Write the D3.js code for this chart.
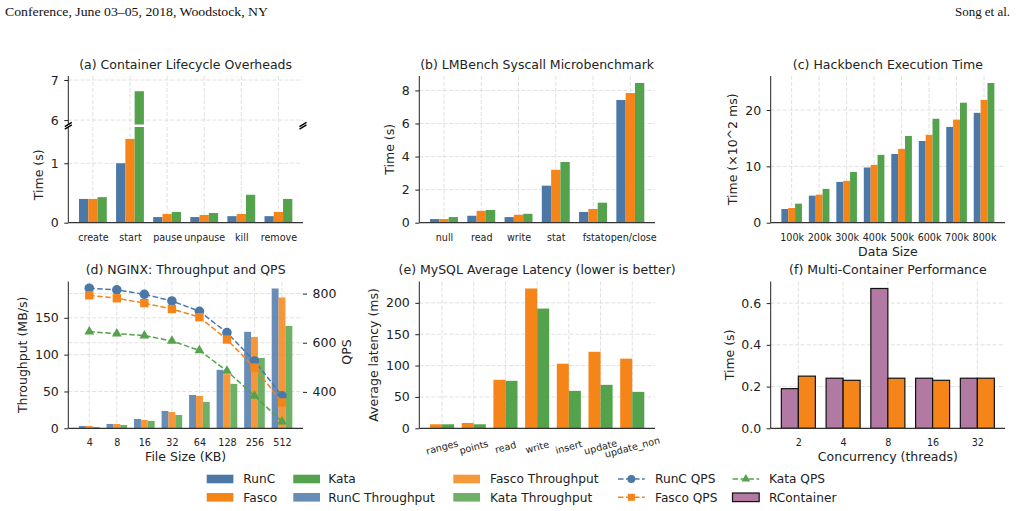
<!DOCTYPE html>
<html>
<head>
<meta charset="utf-8">
<script src="https://cdn.jsdelivr.net/npm/d3@7"></script>
<style>
body { margin: 0; background: #fff; }
</style>
</head>
<body>
<script>
// (a) lifecycle
var lifecycleOps = ['create', 'start', 'pause', 'unpause', 'kill', 'remove'];
var lifecycleRunc = [0.40, 1.00, 0.095, 0.095, 0.11, 0.11];
var lifecycleFasco = [0.40, 1.41, 0.146, 0.13, 0.146, 0.18];
var lifecycleKata = [0.43, 6.72, 0.18, 0.163, 0.47, 0.40];

// (b) lmbench
var syscallOps = ['null', 'read', 'write', 'stat', 'fstat', 'open/close'];
var syscallRunc = [0.22, 0.42, 0.34, 2.24, 0.65, 7.42];
var syscallFasco = [0.22, 0.72, 0.48, 3.2, 0.83, 7.84];
var syscallKata = [0.34, 0.77, 0.54, 3.67, 1.21, 8.45];

// (c) hackbench
var hackSizes = ['100k', '200k', '300k', '400k', '500k', '600k', '700k', '800k'];
var hackRunc = [2.43, 4.8, 7.24, 9.8, 12.2, 14.5, 17.0, 19.5];
var hackFasco = [2.6, 4.98, 7.42, 10.27, 13.1, 15.6, 18.3, 21.8];
var hackKata = [3.38, 6.0, 9.0, 12.05, 15.4, 18.45, 21.3, 24.8];

// (d) nginx
var nginxSizes = ['4', '8', '16', '32', '64', '128', '256', '512'];
var nginxRuncTp = [3.2, 5.9, 12.7, 23.6, 45.3, 79.3, 131, 189.8];
var nginxFascoTp = [3.2, 5.9, 11.3, 22.2, 44, 73.5, 124, 177.6];
var nginxKataTp = [1.8, 4.5, 10, 18.1, 35.8, 60.3, 95.6, 139];
var nginxRuncQps = [822, 815, 797, 770, 728, 641, 526, 384];
var nginxFascoQps = [793, 781, 761, 737, 704, 613, 499, 357];
var nginxKataQps = [645, 637, 629, 607, 569, 485, 384, 279];

// (e) mysql
var mysqlOps = ['ranges', 'points', 'read', 'write', 'insert', 'update', 'update_non'];
var mysqlFasco = [6.4, 8.5, 77.3, 222.9, 103, 122, 111];
var mysqlKata = [6.4, 6.4, 75.7, 190.9, 59.7, 69.3, 58.1];

// (f) multi container
var multiThreads = ['2', '4', '8', '16', '32'];
var multiRcontainer = [0.19, 0.24, 0.67, 0.24, 0.24];
var multiFasco = [0.25, 0.23, 0.24, 0.23, 0.24];

var BLUE = '#4c78a8', ORANGE = '#f58518', GREEN = '#54a24b', PURPLE = '#b279a2';
var FONT = 'DejaVu Sans, sans-serif';
var INK = '#222';

var svg = d3.select('body').append('svg')
    .attr('width', 1021)
    .attr('height', 511);

svg.append('text')
    .attr('x', 5).attr('y', 16)
    .attr('font-family', 'Liberation Serif, serif').attr('font-size', 13)
    .attr('textLength', 263).attr('lengthAdjust', 'spacingAndGlyphs')
    .attr('fill', '#111')
    .text('Conference, June 03–05, 2018, Woodstock, NY');
svg.append('text')
    .attr('x', 1010).attr('y', 16)
    .attr('text-anchor', 'end')
    .attr('font-family', 'Liberation Serif, serif').attr('font-size', 13)
    .attr('textLength', 55).attr('lengthAdjust', 'spacingAndGlyphs')
    .attr('fill', '#111')
    .text('Song et al.');

var cols = [[68.3, 303], [419.3, 655], [770.7, 1005]];
var rows = [[76, 222.7], [281.5, 428.3]];
function box(c, r) {
    return { l: cols[c][0], r: cols[c][1], t: rows[r][0], b: rows[r][1] };
}

function xScale(n, half, bx) {
    var lo = -half, hi = n - 1 + half;
    var m = 0.05 * (hi - lo);
    return d3.scaleLinear().domain([lo - m, hi + m]).range([bx.l, bx.r]);
}

function vgrid(g, x, n, t, b) {
    g.selectAll(null).data(d3.range(n)).enter().append('line')
        .attr('x1', function (d) { return x(d); })
        .attr('x2', function (d) { return x(d); })
        .attr('y1', t).attr('y2', b)
        .attr('stroke', '#dcdcdc').attr('stroke-width', 0.9)
        .attr('stroke-dasharray', '4,2');
}
function hgrid(g, y, ticks, l, r) {
    g.selectAll(null).data(ticks).enter().append('line')
        .attr('x1', l).attr('x2', r)
        .attr('y1', function (d) { return y(d); })
        .attr('y2', function (d) { return y(d); })
        .attr('stroke', '#dcdcdc').attr('stroke-width', 0.9)
        .attr('stroke-dasharray', '4,2');
}

function leftAxis(g, y, ticks, fmt, xPos, t, b, right) {
    var ax = right ? d3.axisRight(y) : d3.axisLeft(y);
    var a = g.append('g').attr('transform', 'translate(' + xPos + ',0)')
        .call(ax.tickValues(ticks).tickSize(4).tickPadding(5.5).tickFormat(fmt));
    a.select('.domain').remove();
    a.attr('font-size', 12.5).attr('font-family', FONT);
    a.selectAll('line').attr('stroke', INK);
    a.selectAll('text').attr('fill', INK);
    if (!right) {
        g.append('line').attr('x1', xPos).attr('x2', xPos).attr('y1', t).attr('y2', b)
            .attr('stroke', INK).attr('stroke-width', 1);
    }
}

function bottomAxis(g, x, cats, bx) {
    var a = g.append('g').attr('transform', 'translate(0,' + bx.b + ')')
        .call(d3.axisBottom(x).tickValues(d3.range(cats.length)).tickSize(0).tickPadding(11)
            .tickFormat(function (i) { return cats[i]; }));
    a.select('.domain').remove();
    a.attr('font-size', 9.6).attr('font-family', FONT);
    a.selectAll('text').attr('fill', INK);
    g.append('line').attr('x1', bx.l).attr('x2', bx.r).attr('y1', bx.b).attr('y2', bx.b)
        .attr('stroke', '#333').attr('stroke-width', 1.2);
    return a;
}

function title(g, bx, txt) {
    g.append('text')
        .attr('x', (bx.l + bx.r) / 2).attr('y', bx.t - 7.5)
        .attr('text-anchor', 'middle')
        .attr('font-family', FONT).attr('font-size', 12.5).attr('fill', INK)
        .text(txt);
}
function ylabel(g, x, y, txt, rot) {
    g.append('text')
        .attr('transform', 'translate(' + x + ',' + y + ') rotate(' + (rot || -90) + ')')
        .attr('text-anchor', 'middle').attr('dy', rot === 90 ? '0.35em' : '0.35em')
        .attr('font-family', FONT).attr('font-size', 12.5).attr('fill', INK)
        .text(txt);
}
function xlabel(g, bx, y, txt) {
    g.append('text')
        .attr('x', (bx.l + bx.r) / 2).attr('y', y)
        .attr('text-anchor', 'middle')
        .attr('font-family', FONT).attr('font-size', 12.5).attr('fill', INK)
        .text(txt);
}

function drawBars(g, x, y, values, offset, width, color, opacity, edge) {
    var r = g.selectAll(null).data(values).enter().append('rect')
        .attr('x', function (d, i) { return x(i + offset - width / 2); })
        .attr('width', x(width) - x(0))
        .attr('y', function (d) { return y(d); })
        .attr('height', function (d) { return y(0) - y(d); })
        .attr('fill', color)
        .attr('fill-opacity', opacity || 1);
    if (edge) r.attr('stroke', '#111').attr('stroke-width', 1.2);
    return r;
}

// ---------- (a) broken axis ----------
(function () {
    var bx = box(0, 0);
    var g = svg.append('g');
    var lowTop = 127, highBottom = 124.5;
    var x = xScale(lifecycleOps.length, 0.375, bx);
    var yLow = d3.scaleLinear().domain([0, 1.61]).range([bx.b, lowTop]);
    var yHigh = d3.scaleLinear().domain([5.89, 7.1]).range([highBottom, bx.t]);

    vgrid(g, x, lifecycleOps.length, bx.t, highBottom);
    vgrid(g, x, lifecycleOps.length, lowTop, bx.b);
    hgrid(g, yLow, [1], bx.l, bx.r);
    hgrid(g, yHigh, [6, 7], bx.l, bx.r);

    var series = [[lifecycleRunc, BLUE, -0.25], [lifecycleFasco, ORANGE, 0], [lifecycleKata, GREEN, 0.25]];
    series.forEach(function (s) {
        var w = 0.25;
        g.selectAll(null).data(s[0]).enter().append('rect')
            .attr('x', function (d, i) { return x(i + s[2] - w / 2); })
            .attr('width', x(w) - x(0))
            .attr('y', function (d) { return yLow(Math.min(d, 1.61)); })
            .attr('height', function (d) { return yLow(0) - yLow(Math.min(d, 1.61)); })
            .attr('fill', s[1]);
        g.selectAll(null).data(s[0].map(function (d, i) { return [d, i]; })
                .filter(function (p) { return p[0] > 5.89; }))
            .enter().append('rect')
            .attr('x', function (p) { return x(p[1] + s[2] - w / 2); })
            .attr('width', x(w) - x(0))
            .attr('y', function (p) { return yHigh(p[0]); })
            .attr('height', function (p) { return yHigh(5.89) - yHigh(p[0]); })
            .attr('fill', s[1]);
    });

    leftAxis(g, yLow, [0, 1], d3.format('d'), bx.l, lowTop, bx.b);
    leftAxis(g, yHigh, [6, 7], d3.format('d'), bx.l, bx.t, highBottom);
    bottomAxis(g, x, lifecycleOps, bx);

    [highBottom, lowTop].forEach(function (yy) {
        [bx.l, bx.r].forEach(function (xx) {
            g.append('line')
                .attr('x1', xx - 3.5).attr('y1', yy + 2.2)
                .attr('x2', xx + 3.5).attr('y2', yy - 2.2)
                .attr('stroke', '#000').attr('stroke-width', 1.4);
        });
    });

    title(g, bx, '(a) Container Lifecycle Overheads');
    ylabel(g, 39, (lowTop + bx.b) / 2, 'Time (s)');
})();

// ---------- generic grouped bar panel ----------
function groupPanel(bx, cats, series, yTicks, fmt, titleTxt, yl, ylx) {
    var g = svg.append('g');
    var x = xScale(cats.length, 0.375, bx);
    var ymax = d3.max(series, function (s) { return d3.max(s[0]); }) * 1.05;
    var y = d3.scaleLinear().domain([0, ymax]).range([bx.b, bx.t]);
    vgrid(g, x, cats.length, bx.t, bx.b);
    hgrid(g, y, yTicks.filter(function (d) { return d > 0; }), bx.l, bx.r);
    series.forEach(function (s) { drawBars(g, x, y, s[0], s[2], 0.25, s[1]); });
    leftAxis(g, y, yTicks, fmt, bx.l, bx.t, bx.b);
    bottomAxis(g, x, cats, bx);
    title(g, bx, titleTxt);
    ylabel(g, ylx, (bx.t + bx.b) / 2, yl);
    return g;
}

groupPanel(box(1, 0), syscallOps,
    [[syscallRunc, BLUE, -0.25], [syscallFasco, ORANGE, 0], [syscallKata, GREEN, 0.25]],
    [0, 2, 4, 6, 8], d3.format('d'), '(b) LMBench Syscall Microbenchmark', 'Time (s)', 390);

var gc = groupPanel(box(2, 0), hackSizes,
    [[hackRunc, BLUE, -0.25], [hackFasco, ORANGE, 0], [hackKata, GREEN, 0.25]],
    [0, 10, 20], d3.format('d'), '(c) Hackbench Execution Time', 'Time (×10^2 ms)', 733);
xlabel(gc, box(2, 0), 255.5, 'Data Size');

// ---------- (d) nginx twin axis ----------
(function () {
    var bx = box(0, 1);
    var g = svg.append('g');
    var x = xScale(nginxSizes.length, 0.375, bx);
    var tpMax = d3.max([].concat(nginxRuncTp, nginxFascoTp, nginxKataTp)) * 1.05;
    var y = d3.scaleLinear().domain([0, tpMax]).range([bx.b, bx.t]);
    var qAll = [].concat(nginxRuncQps, nginxFascoQps, nginxKataQps);
    var qLo = d3.min(qAll), qHi = d3.max(qAll), qm = 0.05 * (qHi - qLo);
    var yq = d3.scaleLinear().domain([qLo - qm, qHi + qm]).range([bx.b, bx.t]);

    vgrid(g, x, nginxSizes.length, bx.t, bx.b);
    hgrid(g, y, [50, 100, 150], bx.l, bx.r);
    hgrid(g, yq, [600, 800], bx.l, bx.r);

    drawBars(g, x, y, nginxRuncTp, -0.25, 0.25, BLUE, 0.85);
    drawBars(g, x, y, nginxFascoTp, 0, 0.25, ORANGE, 0.85);
    drawBars(g, x, y, nginxKataTp, 0.25, 0.25, GREEN, 0.85);

    var lines = [[nginxRuncQps, BLUE, d3.symbolCircle, 72], [nginxFascoQps, ORANGE, d3.symbolSquare, 70],
        [nginxKataQps, GREEN, d3.symbolTriangle, 42]];
    var line = d3.line().x(function (d, i) { return x(i); }).y(function (d) { return yq(d); });
    lines.forEach(function (s) {
        g.append('path').attr('d', line(s[0]))
            .attr('fill', 'none').attr('stroke', s[1]).attr('stroke-width', 1.5)
            .attr('stroke-dasharray', '5.5,2.5');
        g.selectAll(null).data(s[0]).enter().append('path')
            .attr('transform', function (d, i) { return 'translate(' + x(i) + ',' + yq(d) + ')'; })
            .attr('d', d3.symbol().type(s[2]).size(s[3]))
            .attr('fill', s[1]);
    });

    leftAxis(g, y, [0, 50, 100, 150], d3.format('d'), bx.l, bx.t, bx.b);
    leftAxis(g, yq, [400, 600, 800], d3.format('d'), bx.r, bx.t, bx.b, true);
    bottomAxis(g, x, nginxSizes, bx);
    title(g, bx, '(d) NGINX: Throughput and QPS');
    ylabel(g, 22.7, (bx.t + bx.b) / 2, 'Throughput (MB/s)');
    ylabel(g, 347, 352, 'QPS');
    xlabel(g, bx, 460.5, 'File Size (KB)');
})();

// ---------- (e) mysql ----------
(function () {
    var bx = box(1, 1);
    var g = svg.append('g');
    var x = xScale(mysqlOps.length, 0.38, bx);
    var y = d3.scaleLinear().domain([0, d3.max(mysqlFasco.concat(mysqlKata)) * 1.05]).range([bx.b, bx.t]);
    var ticks = [0, 50, 100, 150, 200];
    vgrid(g, x, mysqlOps.length, bx.t, bx.b);
    hgrid(g, y, ticks.slice(1), bx.l, bx.r);
    drawBars(g, x, y, mysqlFasco, -0.19, 0.38, ORANGE);
    drawBars(g, x, y, mysqlKata, 0.19, 0.38, GREEN);
    leftAxis(g, y, ticks, d3.format('d'), bx.l, bx.t, bx.b);
    g.append('line').attr('x1', bx.l).attr('x2', bx.r).attr('y1', bx.b).attr('y2', bx.b)
        .attr('stroke', '#333').attr('stroke-width', 1.2);
    g.selectAll(null).data(mysqlOps).enter().append('text')
        .attr('transform', function (d, i) { return 'translate(' + x(i) + ',' + (bx.b + 18.7) + ') rotate(-15)'; })
        .attr('text-anchor', 'middle').attr('dominant-baseline', 'central')
        .attr('font-family', FONT).attr('font-size', 9.6).attr('fill', INK)
        .text(function (d) { return d; });
    title(g, bx, '(e) MySQL Average Latency (lower is better)');
    ylabel(g, 374, (bx.t + bx.b) / 2, 'Average latency (ms)');
})();

// ---------- (f) multi container ----------
(function () {
    var bx = box(2, 1);
    var g = svg.append('g');
    var x = xScale(multiThreads.length, 0.38, bx);
    var y = d3.scaleLinear().domain([0, d3.max(multiRcontainer.concat(multiFasco)) * 1.05]).range([bx.b, bx.t]);
    var ticks = [0, 0.2, 0.4, 0.6];
    vgrid(g, x, multiThreads.length, bx.t, bx.b);
    hgrid(g, y, ticks.slice(1), bx.l, bx.r);
    drawBars(g, x, y, multiRcontainer, -0.19, 0.38, PURPLE, 1, true);
    drawBars(g, x, y, multiFasco, 0.19, 0.38, ORANGE, 1, true);
    leftAxis(g, y, ticks, d3.format('.1f'), bx.l, bx.t, bx.b);
    bottomAxis(g, x, multiThreads, bx);
    title(g, bx, '(f) Multi-Container Performance');
    ylabel(g, 729.3, (bx.t + bx.b) / 2, 'Time (s)');
    xlabel(g, bx, 460.5, 'Concurrency (threads)');
})();

// ---------- legend ----------
var legendItems = [
    { label: 'RunC', kind: 'patch', color: BLUE },
    { label: 'Fasco', kind: 'patch', color: ORANGE },
    { label: 'Kata', kind: 'patch', color: GREEN },
    { label: 'RunC Throughput', kind: 'patch', color: BLUE, opacity: 0.85 },
    { label: 'Fasco Throughput', kind: 'patch', color: ORANGE, opacity: 0.85 },
    { label: 'Kata Throughput', kind: 'patch', color: GREEN, opacity: 0.85 },
    { label: 'RunC QPS', kind: 'line', color: BLUE, symbol: d3.symbolCircle, size: 50 },
    { label: 'Fasco QPS', kind: 'line', color: ORANGE, symbol: d3.symbolSquare, size: 50 },
    { label: 'Kata QPS', kind: 'line', color: GREEN, symbol: d3.symbolTriangle, size: 32 },
    { label: 'RContainer', kind: 'patch', color: PURPLE, edge: true }
];
var legendCols = [[206.7, 243.3], [293.3, 328.3], [453.3, 490], [618, 655], [732.5, 769]];
var legendRows = [479, 497.3];
var lg = svg.append('g');
legendItems.forEach(function (it, k) {
    var c = legendCols[Math.floor(k / 2)], yy = legendRows[k % 2];
    if (it.kind === 'patch') {
        var r = lg.append('rect').attr('x', c[0]).attr('y', yy - 4.3)
            .attr('width', 26.7).attr('height', 8.6)
            .attr('fill', it.color).attr('fill-opacity', it.opacity || 1);
        if (it.edge) r.attr('stroke', '#111').attr('stroke-width', 1.2);
    } else {
        lg.append('line').attr('x1', c[0]).attr('x2', c[0] + 26.7).attr('y1', yy).attr('y2', yy)
            .attr('stroke', it.color).attr('stroke-width', 1.5).attr('stroke-dasharray', '5.5,2.5');
        lg.append('path').attr('transform', 'translate(' + (c[0] + 13.35) + ',' + yy + ')')
            .attr('d', d3.symbol().type(it.symbol).size(it.size)).attr('fill', it.color);
    }
    lg.append('text').attr('x', c[1]).attr('y', yy).attr('dy', '0.35em')
        .attr('font-family', FONT).attr('font-size', 12.2).attr('fill', INK)
        .text(it.label);
});
</script>
</body>
</html>
